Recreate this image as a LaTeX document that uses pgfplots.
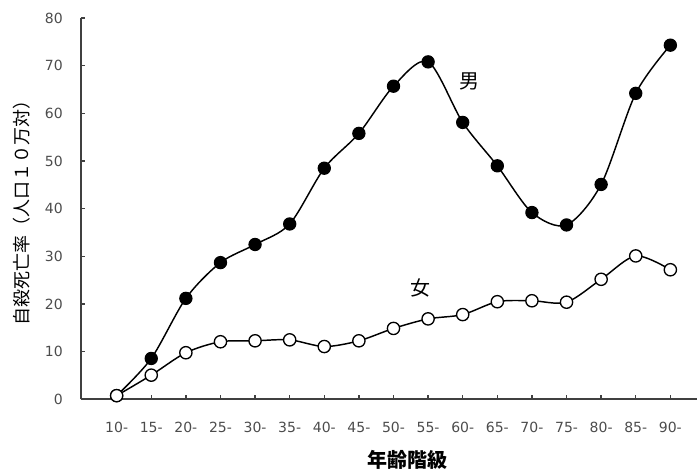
\documentclass[border=0pt]{standalone}
\usepackage{pgfplots}
\pgfplotsset{compat=1.18}
\usepackage{fontspec}
\newfontfamily\cjk{Noto Sans CJK JP}
\newfontfamily\dejavu{DejaVu Sans}
\begin{document}
\begin{tikzpicture}
\begin{axis}[
  name=ax,
  scale only axis,
  width=462pt, height=286.1pt,
  xmin=-1.03, xmax=16.77,
  ymin=0, ymax=80,
  axis x line=bottom, axis y line=left,
  axis line style={-, line width=1.5pt, black!75},
  xtick={0,...,16},
  xticklabels={10-,15-,20-,25-,30-,35-,40-,45-,50-,55-,60-,65-,70-,75-,80-,85-,90-},
  ytick={0,10,...,80},
  yticklabels={0,10,20,30,40,50,60,70,80},
  tick align=inside,
  major tick length=3pt,
  tick style={line width=1pt, black!75},
  xticklabel style={font=\dejavu\fontsize{10.5}{12}\selectfont, text=black!70, anchor=center, inner sep=0pt, yshift=-21pt},
  yticklabel style={font=\dejavu\fontsize{10.5}{12}\selectfont, text=black!70, anchor=east, inner sep=0pt, xshift=-13.5pt},
  clip=false,
]
\addplot[black, line width=1.1pt, smooth, mark=*, mark size=4.6pt, mark options={fill=black, line width=0.8pt}] coordinates {
(0,0.8) (1,8.6) (2,21.2) (3,28.7) (4,32.5) (5,36.8) (6,48.5) (7,55.8) (8,65.7) (9,70.8)
(10,58.1) (11,49.0) (12,39.2) (13,36.6) (14,45.1) (15,64.2) (16,74.3)};
\addplot[black, line width=1.1pt, smooth, mark=*, mark size=4.6pt, mark options={fill=white, line width=1pt}] coordinates {
(0,0.8) (1,5.1) (2,9.8) (3,12.1) (4,12.3) (5,12.5) (6,11.1) (7,12.3) (8,14.9) (9,16.9)
(10,17.8) (11,20.5) (12,20.7) (13,20.4) (14,25.2) (15,30.1) (16,27.2)};
\node[font=\cjk\fontsize{15}{16}\selectfont] at (axis cs:10.21,66.6) {男};
\node[font=\cjk\fontsize{15}{16}\selectfont] at (axis cs:8.77,23.4) {女};
\end{axis}
\node[rotate=90, font=\cjk\fontsize{13.5}{15}\selectfont, inner sep=0pt] at ([xshift=-44.25pt,yshift=0.4pt]ax.west) {自殺死亡率（人口１０万対）};
\node[font=\cjk\bfseries\fontsize{15}{17}\selectfont, inner sep=0pt] at ([xshift=244.9pt,yshift=-45.6pt]ax.south west) {年齢階級};
\pgfresetboundingbox
\path[use as bounding box] ([xshift=-60.75pt,yshift=-54.375pt]ax.south west) rectangle ([yshift=13.5pt]ax.north east);
\end{tikzpicture}
\end{document}
